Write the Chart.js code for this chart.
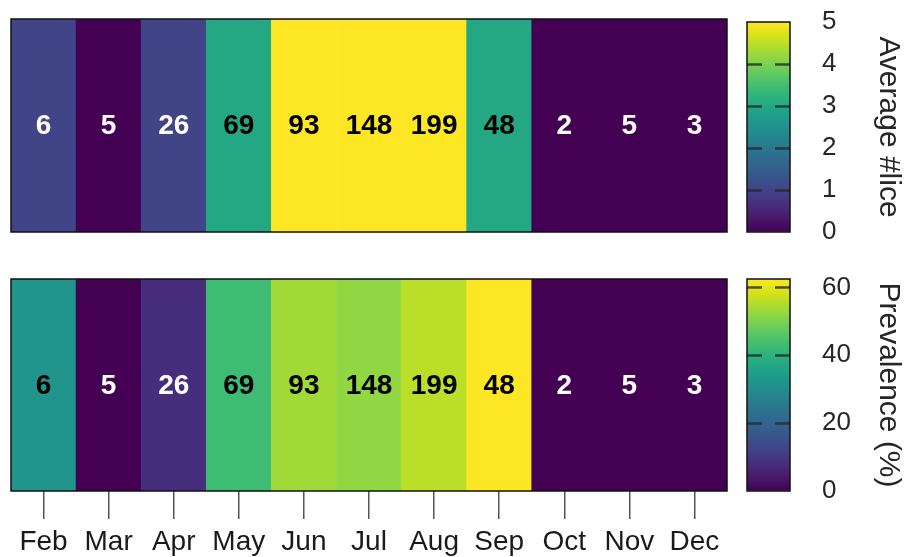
<!DOCTYPE html>
<html>
<head>
<meta charset="utf-8">
<script src="https://cdn.jsdelivr.net/npm/chart.js@4/dist/chart.umd.min.js"></script>
<style>
  html, body { margin: 0; padding: 0; background: #ffffff; }
  #wrap { position: relative; width: 906px; height: 557px; overflow: hidden; }
  canvas { position: absolute; }
</style>
</head>
<body>
<div id="wrap">
  <canvas id="heatLice" width="740" height="260" style="left:0;top:0"></canvas>
  <canvas id="barLice" width="176" height="260" style="left:730px;top:0"></canvas>
  <canvas id="heatPrev" width="740" height="297" style="left:0;top:260px"></canvas>
  <canvas id="barPrev" width="176" height="297" style="left:730px;top:260px"></canvas>
</div>
<script>
// Months sampled and number of fish examined in each
const months = ['Feb', 'Mar', 'Apr', 'May', 'Jun', 'Jul', 'Aug', 'Sep', 'Oct', 'Nov', 'Dec'];
const sampleSizes = [6, 5, 26, 69, 93, 148, 199, 48, 2, 5, 3];

// Average number of lice per fish (colour scale capped at liceMax)
const avgLice = [1.0, 0, 1.0, 3.0, 5, 5, 5, 3.0, 0, 0, 0];
const liceMax = 5;
const liceTicks = [0, 1, 2, 3, 4, 5];

// Prevalence of infestation, percent of fish carrying lice
const prevalence = [32, 0, 8, 43, 53.5, 52, 56, 62.5, 0, 0, 0];
const prevMax = 62.5;
const prevTicks = [0, 20, 40, 60];

// Viridis palette, sampled at 17 evenly spaced stops
const viridis = ['#440154', '#48186a', '#472d7b', '#424086', '#3b528b', '#33638d', '#2c728e',
  '#26828e', '#21918c', '#1fa088', '#28ae80', '#3fbc73', '#5ec962', '#84d44b', '#addc30',
  '#d8e219', '#fde725'];

const FONT = "'Liberation Sans', Arial, Helvetica, sans-serif";

function hexToRgb(h) {
  return [parseInt(h.slice(1, 3), 16), parseInt(h.slice(3, 5), 16), parseInt(h.slice(5, 7), 16)];
}
function viridisAt(t) {
  t = Math.max(0, Math.min(1, t));
  const pos = t * (viridis.length - 1);
  const i = Math.min(Math.floor(pos), viridis.length - 2);
  const f = pos - i;
  const a = hexToRgb(viridis[i]), b = hexToRgb(viridis[i + 1]);
  const c = a.map((v, k) => Math.round(v + (b[k] - v) * f));
  return 'rgb(' + c.join(',') + ')';
}

// Writes the sample size in each cell and frames the plot area
const cellLabels = {
  id: 'cellLabels',
  afterDatasetsDraw(chart, args, opts) {
    const ctx = chart.ctx;
    const ca = chart.chartArea;
    const meta = chart.getDatasetMeta(0);
    ctx.save();
    ctx.font = 'bold 28px ' + FONT;
    ctx.textAlign = 'center';
    ctx.textBaseline = 'middle';
    meta.data.forEach((bar, i) => {
      const frac = opts.values[i] / opts.max;
      ctx.fillStyle = frac < 0.4 ? '#ffffff' : '#000000';
      ctx.fillText(String(sampleSizes[i]), bar.x, (ca.top + ca.bottom) / 2 + 1);
    });
    ctx.strokeStyle = '#111111';
    ctx.lineWidth = 1.5;
    ctx.strokeRect(ca.left, ca.top, ca.right - ca.left, ca.bottom - ca.top);
    ctx.restore();
  }
};

// Dashed tick marks across the colour bar and its frame
const barTicks = {
  id: 'barTicks',
  afterDatasetsDraw(chart, args, opts) {
    const ctx = chart.ctx;
    const ca = chart.chartArea;
    const y = chart.scales.y;
    ctx.save();
    ctx.strokeStyle = 'rgba(40,40,40,0.8)';
    ctx.lineWidth = 2.5;
    ctx.setLineDash([15, 13]);
    opts.ticks.forEach(v => {
      if (v <= 0 || v >= opts.max) return;
      const py = Math.round(y.getPixelForValue(v)) + 0.5;
      ctx.beginPath();
      ctx.moveTo(ca.left, py);
      ctx.lineTo(ca.right, py);
      ctx.stroke();
    });
    ctx.setLineDash([]);
    ctx.strokeStyle = '#111111';
    ctx.lineWidth = 1.5;
    ctx.strokeRect(ca.left, ca.top, ca.right - ca.left, ca.bottom - ca.top);
    ctx.restore();
  }
};

function heatmap(id, values, max, showMonths) {
  return new Chart(document.getElementById(id), {
    type: 'bar',
    data: {
      labels: months,
      datasets: [{
        data: values.map(() => 1),
        backgroundColor: values.map(v => viridisAt(v / max)),
        borderWidth: 0,
        barPercentage: 1,
        categoryPercentage: 1
      }]
    },
    options: {
      responsive: false,
      animation: false,
      devicePixelRatio: 1,
      layout: { padding: { left: 11, right: 13, top: 19, bottom: showMonths ? 0 : 28 } },
      plugins: {
        legend: { display: false },
        tooltip: { enabled: false },
        cellLabels: { values: values, max: max }
      },
      scales: {
        x: {
          display: showMonths,
          afterFit(scale) { if (showMonths) scale.height = 66; },
          border: { display: false },
          grid: { drawOnChartArea: false, drawTicks: true, tickLength: 28, tickColor: '#555555', lineWidth: 1.5, offset: false },
          ticks: { color: '#1a1a1a', font: { family: FONT, size: 28 }, padding: 6, maxRotation: 0, autoSkip: false }
        },
        y: { display: false, min: 0, max: 1 }
      }
    },
    plugins: [cellLabels]
  });
}

function colourBar(id, max, ticks, title, topPad, bottomPad) {
  return new Chart(document.getElementById(id), {
    type: 'bar',
    data: {
      labels: [''],
      datasets: [{
        data: [max],
        backgroundColor(c) {
          const ca = c.chart.chartArea;
          if (!ca) return viridis[0];
          const g = c.chart.ctx.createLinearGradient(0, ca.bottom, 0, ca.top);
          viridis.forEach((col, i) => g.addColorStop(i / (viridis.length - 1), col));
          return g;
        },
        borderWidth: 0,
        barPercentage: 1,
        categoryPercentage: 1
      }]
    },
    options: {
      responsive: false,
      animation: false,
      devicePixelRatio: 1,
      layout: { padding: { left: 17, right: 0, top: topPad, bottom: bottomPad } },
      plugins: {
        legend: { display: false },
        tooltip: { enabled: false },
        barTicks: { ticks: ticks, max: max }
      },
      scales: {
        x: { display: false },
        y: {
          position: 'right',
          min: 0,
          max: max,
          afterBuildTicks(scale) { scale.ticks = ticks.map(v => ({ value: v })); },
          afterFit(scale) { scale.width = 116; },
          border: { display: false },
          grid: { display: true, drawOnChartArea: false, drawTicks: true, tickLength: 32, tickColor: 'rgba(0,0,0,0)' },
          ticks: { color: '#262626', font: { family: FONT, size: 26 }, padding: 0 },
          title: {
            display: true,
            text: title,
            color: '#262626',
            font: { family: FONT, size: 30 },
            padding: { top: 0, bottom: 0 }
          }
        }
      }
    },
    plugins: [barTicks]
  });
}

heatmap('heatLice', avgLice, liceMax, false);
colourBar('barLice', liceMax, liceTicks, 'Average #lice', 22, 28);
heatmap('heatPrev', prevalence, prevMax, true);
colourBar('barPrev', prevMax, prevTicks, 'Prevalence (%)', 19, 66);
</script>
</body>
</html>
